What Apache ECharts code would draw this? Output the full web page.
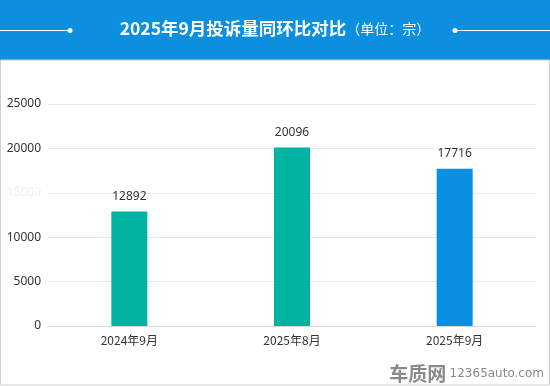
<!DOCTYPE html>
<html><head><meta charset="utf-8">
<script src="https://cdn.jsdelivr.net/npm/echarts@6/dist/echarts.min.js"></script>
<style>html,body{margin:0;padding:0;background:#fff}#c{width:550px;height:386px}</style>
</head><body><div id="c"></div>
<script>
const categories = ['2024年9月', '2025年8月', '2025年9月'];
const values = [12892, 20096, 17716];
const barColors = ['#00b4a2', '#00b4a2', '#0b8fe3'];
const yTicks = [0, 5000, 10000, 15000, 20000, 25000];

const chart = echarts.init(document.getElementById('c'));
chart.setOption({
  animation: false,
  graphic: [
    { type: 'rect', shape: { x: 0, y: 0, width: 550, height: 60 }, style: { fill: '#0b8fde' } },
    { type: 'rect', shape: { x: 0.5, y: 60, width: 549, height: 325 }, style: { fill: 'none', stroke: '#d0d0d0', lineWidth: 1 } },
    { type: 'line', shape: { x1: 0, y1: 30.5, x2: 70, y2: 30.5 }, style: { stroke: '#ffffff', lineWidth: 1 } },
    { type: 'circle', shape: { cx: 70, cy: 30.5, r: 2.5 }, style: { fill: '#ffffff' } },
    { type: 'line', shape: { x1: 455, y1: 30.5, x2: 550, y2: 30.5 }, style: { stroke: '#ffffff', lineWidth: 1 } },
    { type: 'circle', shape: { cx: 455, cy: 30.5, r: 2.5 }, style: { fill: '#ffffff' } },
    { type: 'text', left: 'center', top: 20, style: {
        text: '{a|2025年9月投诉量同环比对比}{b|（单位：宗）}',
        rich: {
          a: { fill: '#fff', fontSize: 17.5, fontWeight: 'bold', fontFamily: 'Noto Sans CJK SC' },
          b: { fill: '#fff', fontSize: 14, fontFamily: 'Noto Sans CJK SC' }
        }
    } },
    { type: 'text', right: 6, bottom: 3, style: {
        text: '{a|车质网} {b|12365auto.com}',
        rich: {
          a: { fill: '#8a8a8a', fontSize: 19, fontWeight: 'bold', fontFamily: 'Noto Sans CJK SC' },
          b: { fill: '#8a8a8a', fontSize: 12, fontFamily: 'DejaVu Sans' }
        }
    } }
  ],
  grid: { left: 48, right: 14, top: 104, bottom: 60 },
  xAxis: {
    type: 'category', data: categories,
    axisLine: { lineStyle: { color: '#d8d8d8' } },
    axisTick: { show: false },
    axisLabel: { color: '#333', fontSize: 12, margin: 8, fontFamily: 'Noto Sans CJK SC' }
  },
  yAxis: {
    type: 'value', min: 0, max: 25000, interval: 5000,
    axisLine: { show: false }, axisTick: { show: false },
    splitLine: { lineStyle: { color: '#e8e8e8' } },
    axisLabel: {
      color: '#333', fontSize: 12, margin: 7, fontFamily: 'Noto Sans',
      formatter: v => v === yTicks[3] ? '{f|' + v + '}' : String(v),
      rich: { f: { color: '#f0f0f0', fontSize: 12 } }
    }
  },
  series: [{
    type: 'bar', barWidth: 36,
    data: values.map((v, i) => ({ value: v, itemStyle: { color: barColors[i] } })),
    label: { show: true, position: 'top', distance: 9, color: '#333', fontSize: 12, fontFamily: 'Noto Sans' }
  }]
});
</script></body></html>
